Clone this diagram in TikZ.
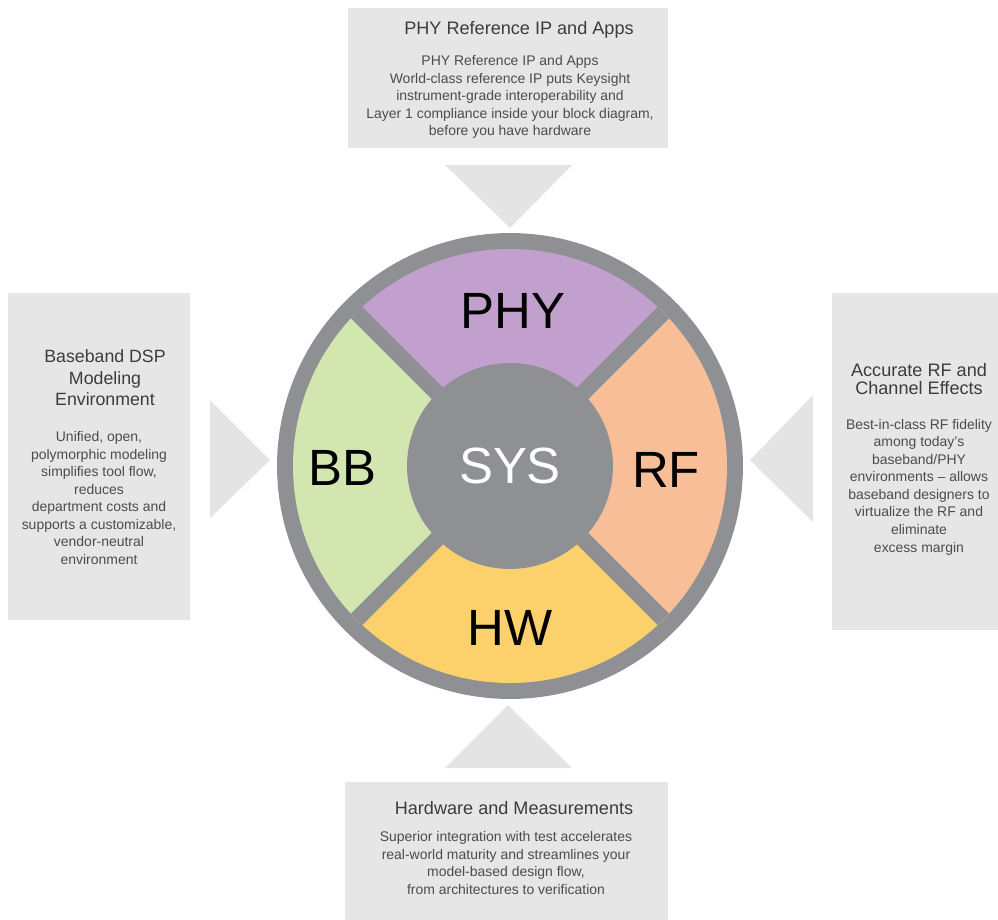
\documentclass[tikz,border=0pt]{standalone}
\usepackage{fontspec}
\setmainfont{Liberation Sans}

\definecolor{ringgray}{HTML}{8E9093}
\definecolor{boxgray}{HTML}{E6E6E6}
\definecolor{pointgray}{HTML}{E4E4E4}
\definecolor{titlegray}{HTML}{3C3C3C}
\definecolor{bodygray}{HTML}{4C4C4C}
\definecolor{phycol}{HTML}{C1A0CE}
\definecolor{rfcol}{HTML}{F8BE98}
\definecolor{hwcol}{HTML}{FCD06A}
\definecolor{bbcol}{HTML}{D4E6AF}

\tikzset{
  infobox/.style={rectangle, fill=boxgray, inner sep=0pt},
  boxtitle/.style={align=center, text=titlegray, font=\fontsize{10.3}{11.5}\selectfont},
  boxbody/.style={align=center, text=bodygray, font=\fontsize{7.95}{10}\selectfont},
  seglabel/.style={font=\fontsize{29}{34}\selectfont},
  pointer/.style={fill=pointgray}
}

\begin{document}
\begin{tikzpicture}[x=0.02cm, y=-0.02cm]
\useasboundingbox (0,0) rectangle (998,920);

% Info boxes
\node[infobox, minimum width=6.4cm, minimum height=2.8cm] (phybox) at (508,78) {};
\node[infobox, minimum width=3.64cm, minimum height=6.54cm] (bbbox) at (99,456.5) {};
\node[infobox, minimum width=3.32cm, minimum height=6.74cm] (rfbox) at (915,461.5) {};
\node[infobox, minimum width=6.46cm, minimum height=2.76cm] (hwbox) at (506.5,851) {};

% Pointers towards the wheel
\fill[pointer] (445,165) -- (572,165) -- (510,228) -- cycle;
\fill[pointer] (210,400) -- (210,518) -- (270,460) -- cycle;
\fill[pointer] (813,395) -- (813,522) -- (750,460) -- cycle;
\fill[pointer] (445,768) -- (572,768) -- (508,705) -- cycle;

% Wheel
\node[circle, fill=ringgray, minimum size=9.32cm, inner sep=0pt] (wheel) at (510,466) {};

\begin{scope}
\clip (wheel.center) circle[radius=217];
\foreach \a/\col in {225/phycol, 315/rfcol, 45/hwcol, 135/bbcol} {
    \fill[\col] (wheel.center) -- +(\a:400) -- +(\a+90:400) -- cycle;
}
\foreach \a in {45,135} {
    \draw[ringgray, line width=0.32cm] (wheel.center) +(\a:217) -- +(\a+180:217);
}
\end{scope}

\node[circle, fill=ringgray, minimum size=4.12cm, inner sep=0pt, seglabel, text=white] (sys) at (wheel.center) {SYS};

% Segment labels
\node[seglabel] (phy) at (513,311) {PHY};
\node[seglabel] (bb) at (342,468) {BB};
\node[seglabel] (rf) at (666,470) {RF};
\node[seglabel] (hw) at (510,628) {HW};

% Box texts
\node[boxtitle] (phytitle) at (519,30) {PHY Reference IP and Apps};
\node[boxbody] (phybody) at (510,97) {PHY Reference IP and Apps\\World-class reference IP puts Keysight\\instrument-grade interoperability and\\Layer 1 compliance inside your block diagram,\\before you have hardware};

\node[boxtitle, font=\fontsize{10.1}{12.2}\selectfont] (bbtitle) at (105,378) {Baseband DSP\\Modeling\\Environment};
\node[boxbody] (bbbody) at (99,498) {Unified, open,\\polymorphic modeling\\simplifies tool flow,\\reduces\\department costs and\\supports a customizable,\\vendor-neutral\\environment};

\node[boxtitle, font=\fontsize{10.3}{10.5}\selectfont] (rftitle) at (919,379) {Accurate RF and\\Channel Effects};
\node[boxbody] (rfbody) at (919,487) {Best-in-class RF fidelity\\among today’s\\baseband/PHY\\environments – allows\\baseband designers to\\virtualize the RF and\\eliminate\\excess margin};

\node[boxtitle] (hwtitle) at (514,808) {Hardware and Measurements};
\node[boxbody] (hwbody) at (506,863) {Superior integration with test accelerates\\real-world maturity and streamlines your\\model-based design flow,\\from architectures to verification};

\end{tikzpicture}
\end{document}
